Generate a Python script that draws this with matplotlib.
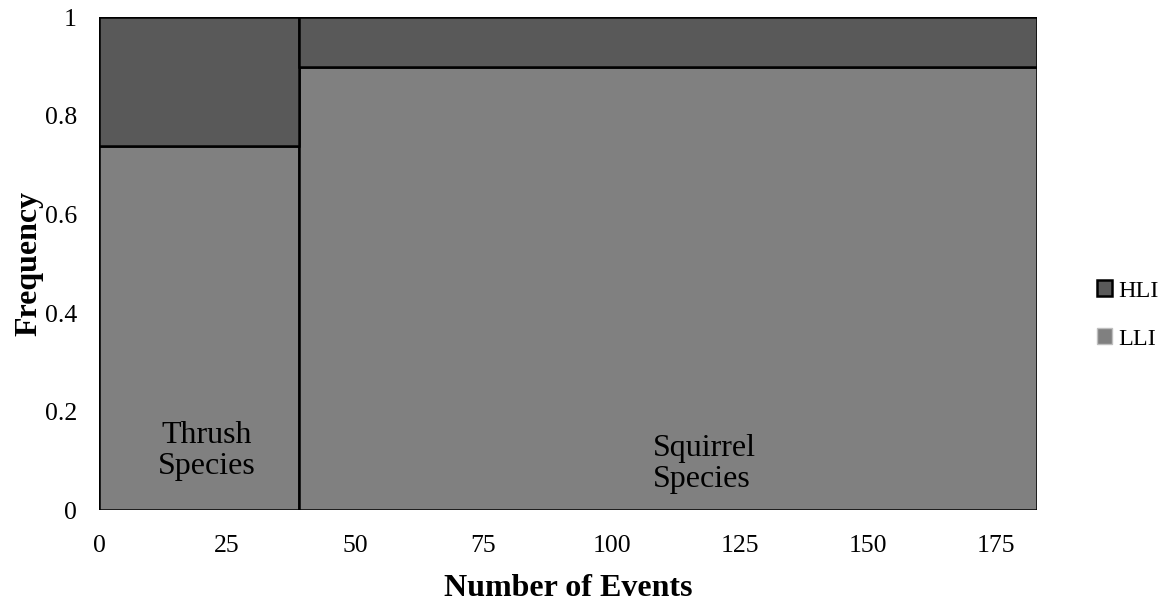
import numpy as np
import matplotlib
matplotlib.use('Agg')
import matplotlib.pyplot as plt
from matplotlib.patches import Patch

# mosaic data: bar width = number of events, height = frequency share
species = ['Thrush\nSpecies', 'Squirrel\nSpecies']
events = [39, 144]
lli = [0.74, 0.90]
hli = [0.26, 0.10]
x_ticks = [0, 25, 50, 75, 100, 125, 150, 175]
y_ticks = [0, 0.2, 0.4, 0.6, 0.8, 1]
y_labels = ['0', '0.2', '0.4', '0.6', '0.8', '1']

plt.rcParams['font.family'] = ['Liberation Serif', 'DejaVu Serif']

lefts = np.concatenate([[0], np.cumsum(events)[:-1]])

fig = plt.figure(figsize=(11.72, 6.01), dpi=100)
ax = fig.add_axes([0.0845, 0.1514, 0.8003, 0.8195])

ax.bar(lefts, lli, width=events, align='edge', color='#808080',
       edgecolor='black', linewidth=1.8, zorder=2)
ax.bar(lefts, hli, bottom=lli, width=events, align='edge', color='#595959',
       edgecolor='black', linewidth=1.8, zorder=2)

# species labels inside the bars
ax.text(lefts[0] + events[0] / 2 + 1.5, 0.12, species[0], ha='center', va='center',
        fontsize=23, linespacing=1.1, zorder=3)
ax.text(108, 0.093, species[1], ha='left', va='center',
        fontsize=23, linespacing=1.1, zorder=3)

ax.set_xlim(0, sum(events))
ax.set_ylim(0, 1)
ax.set_xticks(x_ticks)
ax.set_yticks(y_ticks)
ax.set_yticklabels(y_labels)
ax.tick_params(axis='both', length=0, labelsize=18.5)
ax.tick_params(axis='x', pad=18)
ax.tick_params(axis='y', pad=16)
for s in ax.spines.values():
    s.set_visible(False)

ax.set_xlabel('Number of Events', fontsize=23, fontweight='bold', labelpad=12)
ax.set_ylabel('Frequency', fontsize=23, fontweight='bold', labelpad=1)

handles = [Patch(facecolor='#595959', edgecolor='black', linewidth=1.8, label='HLI'),
           Patch(facecolor='#808080', edgecolor='#bfbfbf', linewidth=1.0, label='LLI')]
fig.legend(handles=handles, loc='center left', bbox_to_anchor=(0.936, 0.476),
           frameon=False, fontsize=17.5, handlelength=0.62, handleheight=0.62,
           handletextpad=0.25, labelspacing=1.1, borderpad=0, borderaxespad=0)

fig.savefig('out.png', dpi=100)
